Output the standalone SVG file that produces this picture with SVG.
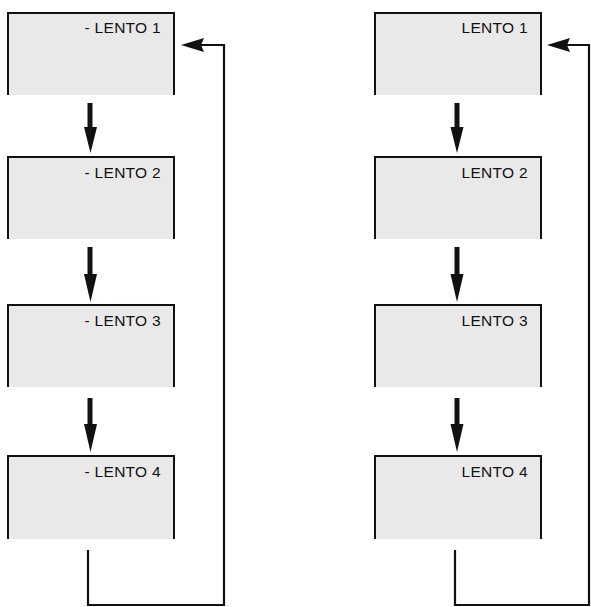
<svg xmlns="http://www.w3.org/2000/svg" width="591" height="607" viewBox="0 0 591 607">
<defs>
<style>
.fill{fill:#e9e9e9;stroke:none}
.edge{fill:none;stroke:#111;stroke-width:2}
.lbl{font-family:"Liberation Sans",Arial,sans-serif;font-size:15.5px;letter-spacing:0.3px;fill:#111;text-anchor:end}
.conn{fill:none;stroke:#111;stroke-width:2.2}
.shaft{fill:none;stroke:#111;stroke-width:5}
.head{fill:#111;stroke:none}
</style>
</defs>
<rect width="591" height="607" fill="#fff"/>
<g id="L1"><rect class="fill" x="8" y="13" width="166" height="82"/><path class="edge" d="M8,95V13H174V95"/><text class="lbl" x="161" y="33">- LENTO 1</text></g>
<g id="L2"><rect class="fill" x="8" y="157" width="166" height="82"/><path class="edge" d="M8,239V157H174V239"/><text class="lbl" x="161" y="178">- LENTO 2</text></g>
<g id="L3"><rect class="fill" x="8" y="305" width="166" height="82"/><path class="edge" d="M8,387V305H174V387"/><text class="lbl" x="161" y="326">- LENTO 3</text></g>
<g id="L4"><rect class="fill" x="8" y="456" width="166" height="83"/><path class="edge" d="M8,539V456H174V539"/><text class="lbl" x="161" y="477">- LENTO 4</text></g>
<g id="R1"><rect class="fill" x="375" y="13" width="166" height="82"/><path class="edge" d="M375,95V13H541V95"/><text class="lbl" x="528" y="33">LENTO 1</text></g>
<g id="R2"><rect class="fill" x="375" y="157" width="166" height="82"/><path class="edge" d="M375,239V157H541V239"/><text class="lbl" x="528" y="178">LENTO 2</text></g>
<g id="R3"><rect class="fill" x="375" y="305" width="166" height="82"/><path class="edge" d="M375,387V305H541V387"/><text class="lbl" x="528" y="326">LENTO 3</text></g>
<g id="R4"><rect class="fill" x="375" y="456" width="166" height="83"/><path class="edge" d="M375,539V456H541V539"/><text class="lbl" x="528" y="477">LENTO 4</text></g>
<g id="connectors">
<path class="shaft" d="M90,103V128"/><path class="head" d="M84,127H97L90.5,153Z"/>
<path class="shaft" d="M90,247V275"/><path class="head" d="M84,274H97L90.5,302Z"/>
<path class="shaft" d="M90,398V425"/><path class="head" d="M84,424H97L90.5,452Z"/>
<path class="shaft" d="M457,103V128"/><path class="head" d="M450.5,127H463.5L457,153Z"/>
<path class="shaft" d="M457,247V275"/><path class="head" d="M450.5,274H463.5L457,302Z"/>
<path class="shaft" d="M457,398V425"/><path class="head" d="M450.5,424H463.5L457,452Z"/>
<path class="conn" d="M88,550V605H224V45H200"/><path class="head" d="M181,45L204,38L201,45L204,52Z"/>
<path class="conn" d="M455,550V605H589V45H567"/><path class="head" d="M547,45L570,38L567,45L570,52Z"/>
</g>
</svg>
